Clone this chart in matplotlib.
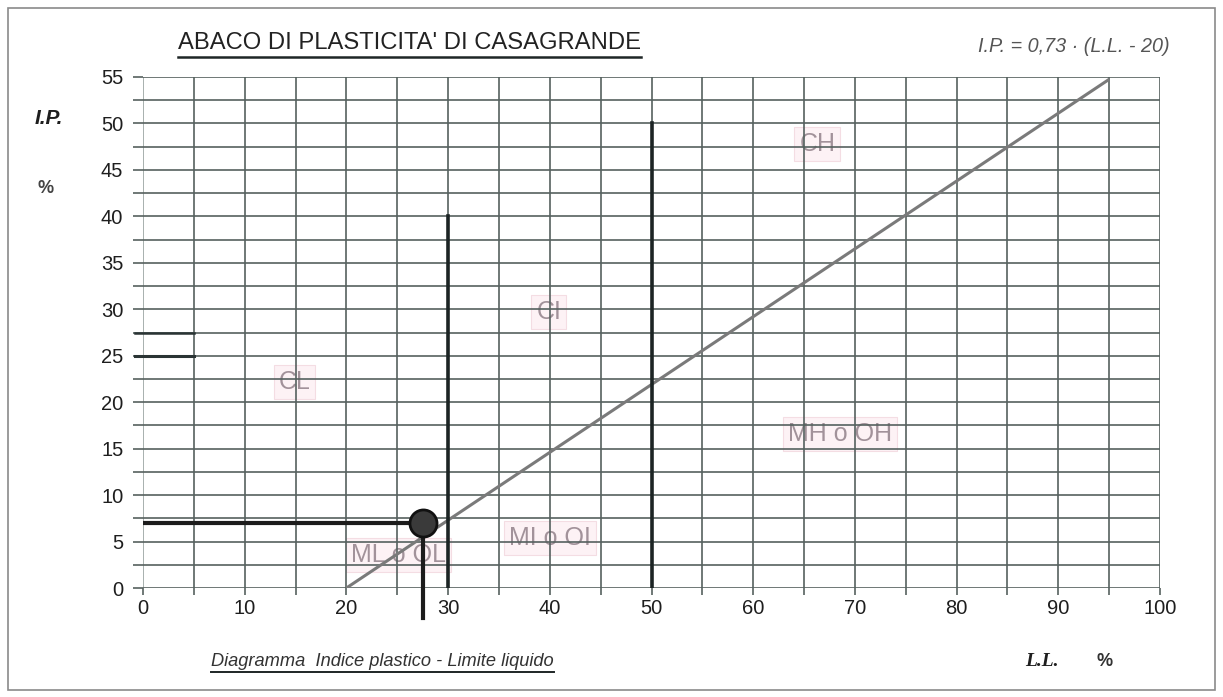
import matplotlib
matplotlib.use("Agg")
import matplotlib.pyplot as plt
from matplotlib.lines import Line2D
from matplotlib.patches import Rectangle
import numpy as np

# ---- data ----
x_major = [0, 10, 20, 30, 40, 50, 60, 70, 80, 90, 100]
x_minor = [5, 15, 25, 35, 45, 55, 65, 75, 85, 95]
y_major = [0, 5, 10, 15, 20, 25, 30, 35, 40, 45, 50, 55]
y_minor = [2.5, 7.5, 12.5, 17.5, 22.5, 27.5, 32.5, 37.5, 42.5, 47.5, 52.5]
aline_ll = [20, 95]
aline_ip = [0.73 * (v - 20) for v in aline_ll]
limit_ll = [30, 50]
limit_top = [40, 50]
sample_ll = 27.5
sample_ip = 7.0
zone_names = ["CH", "CI", "CL", "MH o OH", "MI o OI", "ML o OL"]
zone_ll = [66.3, 39.9, 14.9, 68.5, 40.0, 25.1]
zone_ip = [47.8, 29.7, 22.2, 16.6, 5.4, 3.6]

W, H, DPI = 1223, 697, 100
fig = plt.figure(figsize=(W / DPI, H / DPI), dpi=DPI)
fig.patch.set_facecolor("white")

def fx(px):
    return px / W

def fy(py):
    return 1 - py / H

ax = fig.add_axes([fx(143), fy(588), fx(1160) - fx(143), fy(77) - fy(588)])
ax.set_xlim(0, 100)
ax.set_ylim(0, 55)
for s in ax.spines.values():
    s.set_visible(False)

grid_c = "#56615f"
for v in x_major + x_minor:
    c = "#9aa3a1" if v == 0 else grid_c
    ax.axvline(v, color=c, lw=1.2, zorder=1)
for v in y_major + y_minor:
    ax.axhline(v, color=grid_c, lw=1.2, zorder=1)

ax.set_xticks(x_major)
ax.set_xticks(x_minor, minor=True)
ax.set_yticks(y_major)
ax.set_yticks(y_minor, minor=True)
ax.tick_params(which="both", direction="out", width=1.2, color=grid_c,
               labelsize=14.5, labelcolor="#1e1e1e")
ax.tick_params(axis="x", which="both", length=5, pad=3)
ax.tick_params(axis="y", which="both", length=7.2, pad=7)
for lab in ax.get_xticklabels() + ax.get_yticklabels():
    lab.set_fontfamily("Liberation Sans")

# A-line
ax.plot(aline_ll, aline_ip, color="#7a7a7a", lw=2.2, zorder=3, solid_capstyle="butt")

# limit lines
for xv, top in zip(limit_ll, limit_top):
    ax.plot([xv, xv], [0, top], color="#1c2424", lw=2.6, zorder=4)

# extra thick segments near left
ax.plot([-0.8, 5], [25, 25], color="#2a3434", lw=2.2, zorder=2, clip_on=False)
ax.plot([-0.8, 5], [27.5, 27.5], color="#2a3434", lw=1.8, zorder=2, clip_on=False)

# sample point lines
ax.plot([0, sample_ll], [sample_ip, sample_ip], color="#1c1c1c", lw=3, zorder=5)
ax.plot([sample_ll, sample_ll], [sample_ip, -3.2], color="#1c1c1c", lw=3, zorder=5,
        clip_on=False)
ax.scatter([sample_ll], [sample_ip], s=380, color="#3a3a3a", edgecolor="#111111",
           linewidth=2, zorder=6)

# zone labels (drawn beneath the grid, as in the printed chart)
for name, xv, yv in zip(zone_names, zone_ll, zone_ip):
    ax.text(xv, yv, name, fontsize=18, color="#a2929a", ha="center", va="center",
            family="Liberation Sans", zorder=0.5,
            bbox=dict(boxstyle="square,pad=0.2", fc="#fdf2f5", ec="#f4dde3", lw=0.8))

renderer = fig.canvas.get_renderer()

def fit(t, target_w):
    bb = t.get_window_extent(renderer)
    t.set_fontsize(t.get_fontsize() * target_w / bb.width)

def underline(t, gap=3, lw=1.5):
    bb = t.get_window_extent(renderer)
    y = bb.y0 - gap
    fig.add_artist(Line2D([bb.x0 / W, bb.x1 / W], [y / H, y / H], color="#1e2626", lw=lw))

title = fig.text(fx(178), fy(43), "ABACO DI PLASTICITA' DI CASAGRANDE", ha="left",
                 va="center", fontsize=14, color="#222222", family="Liberation Sans")
fit(title, 642 - 178)
underline(title, gap=3, lw=1.8)

formula = fig.text(fx(978), fy(47), "I.P. = 0,73 \u00b7 (L.L. - 20)", ha="left", va="center",
                   fontsize=9, style="italic", color="#555555", family="Liberation Sans")
fit(formula, 1170 - 978)

fig.text(fx(35), fy(118), "I.P.", ha="left", va="center", fontsize=15, style="italic",
         weight="bold", color="#1e1e1e", family="Liberation Sans")
fig.text(fx(46), fy(188), "%", ha="center", va="center", fontsize=13, weight="bold",
         color="#444444", family="Liberation Sans")

diag = fig.text(fx(211), fy(661), "Diagramma  Indice plastico - Limite liquido", ha="left",
                va="center", fontsize=11, style="italic", color="#333333",
                family="Liberation Sans")
fit(diag, 555 - 211)
underline(diag, gap=2, lw=1.4)

fig.text(fx(1025), fy(661), "L.L.", ha="left", va="center", fontsize=14, style="italic",
         weight="bold", color="#1e1e1e", family="Liberation Serif")
fig.text(fx(1105), fy(661), "%", ha="center", va="center", fontsize=13, weight="bold",
         color="#333333", family="Liberation Sans")

# outer frame
fig.add_artist(Rectangle((fx(8), fy(690)), fx(1215) - fx(8), fy(8) - fy(690),
                         fill=False, ec="#8a8a8a", lw=1.2))

fig.savefig("out.png", dpi=DPI)
